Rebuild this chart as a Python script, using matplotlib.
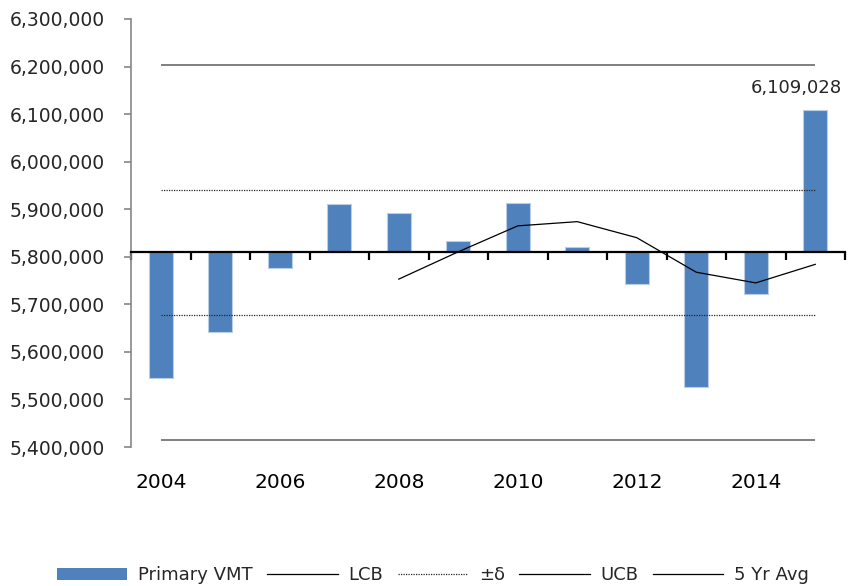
import numpy as np
import matplotlib
matplotlib.use("Agg")
import matplotlib.pyplot as plt
from matplotlib.lines import Line2D
from matplotlib.patches import Patch
from matplotlib.ticker import FuncFormatter

# data
years = [2004, 2005, 2006, 2007, 2008, 2009, 2010, 2011, 2012, 2013, 2014, 2015]
vmt = [5546000, 5641000, 5775500, 5910500, 5892000, 5833000,
       5914000, 5819800, 5741800, 5527200, 5720700, 6109028]
avg5_years = [2008, 2009, 2010, 2011, 2012, 2013, 2014, 2015]
avg5 = [5753000, 5810400, 5865000, 5873860, 5840120, 5767520, 5745060, 5784066]
mean_vmt = 5809500
ucb = 6203500
lcb = 5415600
delta_hi = 5940500
delta_lo = 5678500
label_years = [2004, 2006, 2008, 2010, 2012, 2014]

plt.rcParams['font.family'] = 'DejaVu Sans'

fig = plt.figure(figsize=(8.49, 5.86), dpi=100)
ax = fig.add_axes([0.1543, 0.2372, 0.8410, 0.7304])

x = np.arange(len(years))
bar_color = '#4F81BD'
ax.bar(x, np.array(vmt) - mean_vmt, bottom=mean_vmt, width=0.4,
       color=bar_color, edgecolor='#B9CDE5', linewidth=0.8, zorder=2)

# control bounds span first to last category
ax.hlines([lcb, ucb], x[0], x[-1], color='#7F7F7F', linewidth=1.4, zorder=3)
ax.hlines([delta_hi, delta_lo], x[0], x[-1], color='#262626',
          linewidth=0.9, linestyles=(0, (1, 1)), zorder=3)

# 5 year rolling average
xa = [years.index(y) for y in avg5_years]
ax.plot(xa, avg5, color='black', linewidth=0.9, zorder=4)

# label on last bar
ax.annotate(f"{vmt[-1]:,}", xy=(x[-1], vmt[-1]), xytext=(-14, 16),
            textcoords='offset points', ha='center', va='center',
            fontsize=13, color='#262626')

ax.set_xlim(-0.5, len(years) - 0.5)
ax.set_ylim(5400000, 6300000)
ax.set_yticks(np.arange(5400000, 6300001, 100000))
ax.yaxis.set_major_formatter(FuncFormatter(lambda v, p: f"{int(v):,}"))
ax.tick_params(axis='y', direction='out', length=5, width=1.2,
               color='#868686', labelsize=13.5, labelcolor='#262626', pad=14)

# x axis crosses at the mean, labels sit at the bottom
for s in ['top', 'right']:
    ax.spines[s].set_visible(False)
ax.spines['left'].set_color('#868686')
ax.spines['left'].set_linewidth(1.2)
ax.spines['bottom'].set_position(('data', mean_vmt))
ax.spines['bottom'].set_linewidth(1.6)
ax.spines['bottom'].set_zorder(5)
ax.set_xticks(np.arange(-0.5, len(years), 1.0))
ax.set_xticklabels([])
ax.tick_params(axis='x', direction='out', length=6, width=1.6, color='black')

sec = ax.secondary_xaxis('bottom')
sec.set_xticks([years.index(y) for y in label_years])
sec.set_xticklabels([str(y) for y in label_years])
sec.tick_params(length=0, labelsize=14.5, pad=19, labelcolor='black')
sec.spines['bottom'].set_visible(False)

handles = [
    Patch(facecolor=bar_color, edgecolor='none'),
    Line2D([], [], color='black', linewidth=0.9),
    Line2D([], [], color='#262626', linewidth=0.9, linestyle=(0, (1, 1))),
    Line2D([], [], color='black', linewidth=0.9),
    Line2D([], [], color='black', linewidth=0.9),
]
labels = ['Primary VMT', 'LCB', '\u00b1\u03b4', 'UCB', '5 Yr Avg']
leg = fig.legend(handles, labels, loc='center', bbox_to_anchor=(0.51, 0.018),
                 ncol=5, frameon=False, fontsize=13, handlelength=3.9,
                 handletextpad=0.6, columnspacing=0.8, handleheight=0.6)
for t in leg.get_texts():
    t.set_color('#262626')

fig.savefig('out.png', dpi=100)
